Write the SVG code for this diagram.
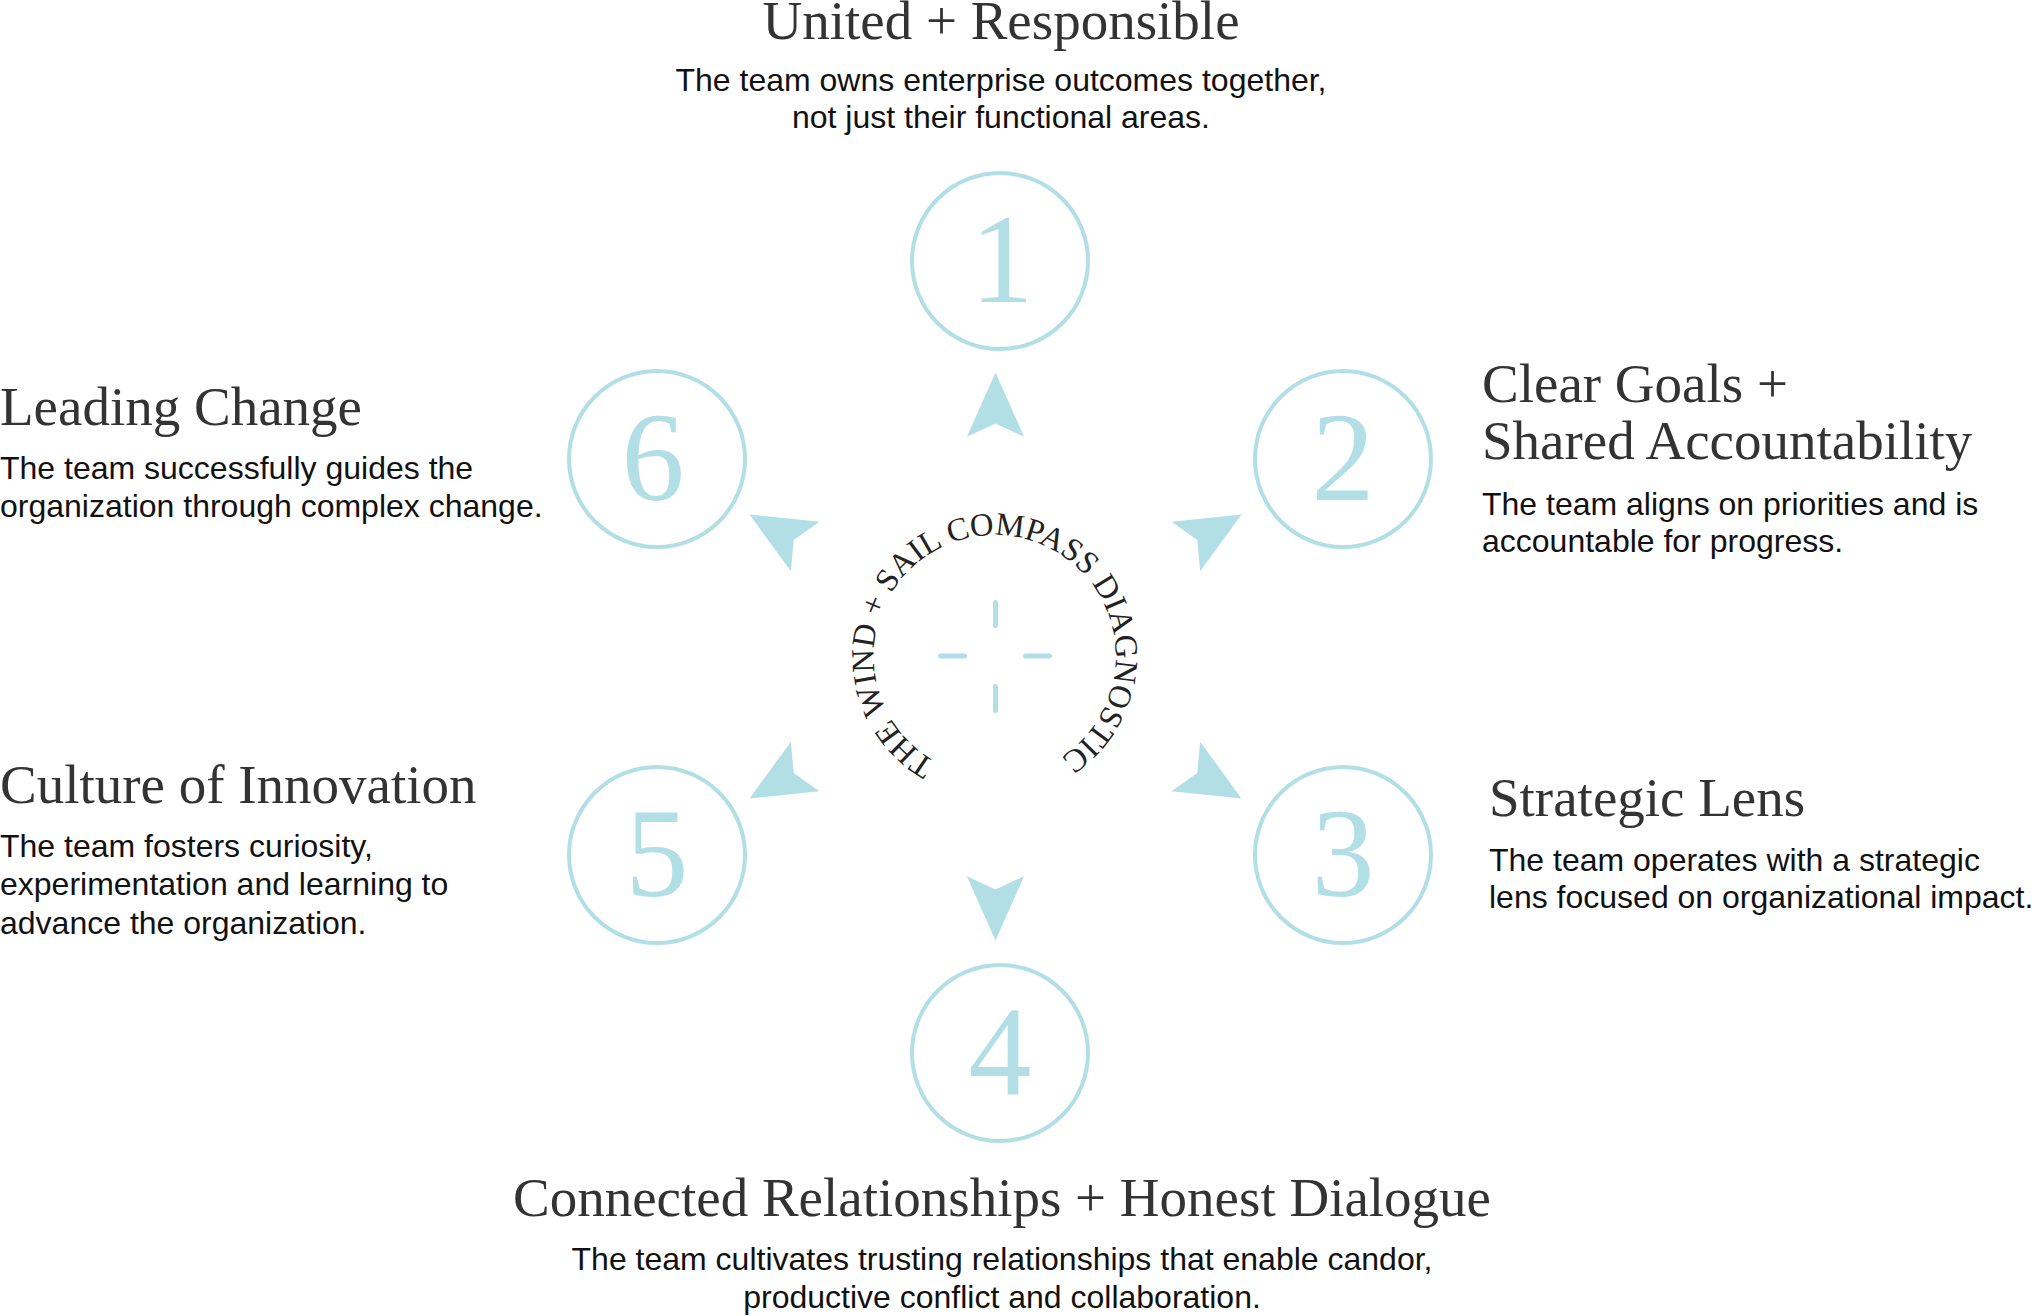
<svg xmlns="http://www.w3.org/2000/svg" xmlns:xlink="http://www.w3.org/1999/xlink" width="2038" height="1316" viewBox="0 0 2038 1316">
<style>
.ring{fill:none;stroke:#b2dfe5;stroke-width:4}
.num{font-family:"Liberation Serif",serif;font-size:126px;fill:#b2dfe5;text-anchor:middle}
.title{font-family:"Liberation Serif",serif;font-size:55px;fill:#333333}
.body{font-family:"Liberation Sans",Arial,sans-serif;font-size:32px;fill:#111111}
.mid{text-anchor:middle}
.arrow{fill:#b2dfe5}
.dash{stroke:#b2dfe5;stroke-width:5;stroke-linecap:round}
.arc{font-family:"Liberation Serif",serif;font-size:32.5px;fill:#222222}
</style>
<defs>
<path id="arw" d="M995.5 372.5 L966.9 436.7 L995.5 423.5 L1024.1 436.7 Z"/>
<path id="ringpath" d="M935.7 761.7 A121 121 0 1 1 998 777"/>
</defs>
<rect width="2038" height="1316" fill="#ffffff"/>

<g id="connectors">
<use xlink:href="#arw" class="arrow"/>
<use xlink:href="#arw" class="arrow" transform="rotate(60 995.5 656.5)"/>
<use xlink:href="#arw" class="arrow" transform="rotate(120 995.5 656.5)"/>
<use xlink:href="#arw" class="arrow" transform="rotate(180 995.5 656.5)"/>
<use xlink:href="#arw" class="arrow" transform="rotate(240 995.5 656.5)"/>
<use xlink:href="#arw" class="arrow" transform="rotate(300 995.5 656.5)"/>
</g>

<g id="compass">
<line class="dash" x1="995.5" y1="602.5" x2="995.5" y2="625.5"/>
<line class="dash" x1="995.5" y1="686.5" x2="995.5" y2="710.5"/>
<line class="dash" x1="940.5" y1="656" x2="964.5" y2="656"/>
<line class="dash" x1="1025.5" y1="656" x2="1049.5" y2="656"/>
<text class="arc"><textPath xlink:href="#ringpath">THE WIND + SAIL COMPASS DIAGNOSTIC</textPath></text>
</g>

<g id="node1">
<circle class="ring" cx="1000" cy="261" r="88"/>
<text class="num" x="1002" y="302">1</text>
<text class="title mid" x="1001" y="38.5">United + Responsible</text>
<text class="body mid" x="1001" y="91">The team owns enterprise outcomes together,</text>
<text class="body mid" x="1001" y="128">not just their functional areas.</text>
</g>

<g id="node2">
<circle class="ring" cx="1343" cy="459" r="88"/>
<text class="num" x="1343" y="500">2</text>
<text class="title" x="1482" y="402">Clear Goals +</text>
<text class="title" x="1482" y="459">Shared Accountability</text>
<text class="body" x="1482" y="515">The team aligns on priorities and is</text>
<text class="body" x="1482" y="552">accountable for progress.</text>
</g>

<g id="node3">
<circle class="ring" cx="1343" cy="855" r="88"/>
<text class="num" x="1343" y="896">3</text>
<text class="title" x="1489" y="816">Strategic Lens</text>
<text class="body" x="1489" y="871">The team operates with a strategic</text>
<text class="body" x="1489" y="908">lens focused on organizational impact.</text>
</g>

<g id="node4">
<circle class="ring" cx="1000" cy="1053" r="88"/>
<text class="num" x="1000" y="1094">4</text>
<text class="title mid" x="1002" y="1216">Connected Relationships + Honest Dialogue</text>
<text class="body mid" x="1002" y="1270">The team cultivates trusting relationships that enable candor,</text>
<text class="body mid" x="1002" y="1308">productive conflict and collaboration.</text>
</g>

<g id="node5">
<circle class="ring" cx="657" cy="855" r="88"/>
<text class="num" x="657" y="896">5</text>
<text class="title" x="0" y="803">Culture of Innovation</text>
<text class="body" x="0" y="857">The team fosters curiosity,</text>
<text class="body" x="0" y="895">experimentation and learning to</text>
<text class="body" x="0" y="934">advance the organization.</text>
</g>

<g id="node6">
<circle class="ring" cx="657" cy="459" r="88"/>
<text class="num" x="653" y="500">6</text>
<text class="title" x="0" y="425">Leading Change</text>
<text class="body" x="0" y="479">The team successfully guides the</text>
<text class="body" x="0" y="517">organization through complex change.</text>
</g>
</svg>
